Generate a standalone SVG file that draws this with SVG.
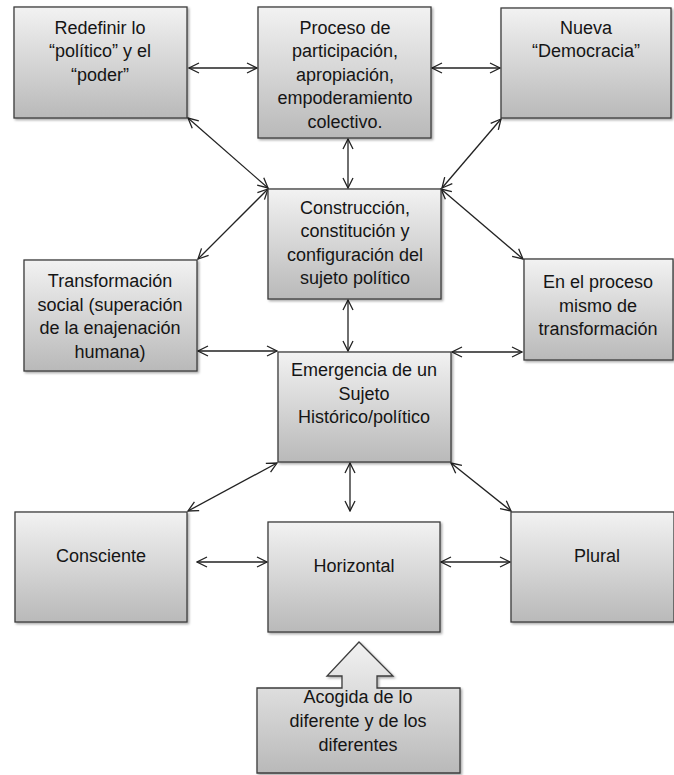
<svg xmlns="http://www.w3.org/2000/svg" width="674" height="775" viewBox="0 0 674 775">
  <defs>
    <linearGradient id="boxFill" x1="0" y1="0" x2="0" y2="1">
      <stop offset="0" stop-color="#f2f2f2"/>
      <stop offset="1" stop-color="#b9b9b9"/>
    </linearGradient>
    <filter id="shadow" x="-10%" y="-10%" width="125%" height="125%">
      <feDropShadow dx="1.5" dy="1.5" stdDeviation="1.2" flood-color="#000" flood-opacity="0.35"/>
    </filter>
    <marker id="head" viewBox="0 0 12 12" refX="11" refY="6" markerWidth="12" markerHeight="12" markerUnits="userSpaceOnUse" orient="auto-start-reverse">
      <path d="M1,1 L11,6 L1,11" fill="none" stroke="#222" stroke-width="1.3"/>
    </marker>
  </defs>
  <style>
    .box { fill: url(#boxFill); stroke: #3c3c3c; stroke-width: 1.3; filter: url(#shadow); }
    .lbl { font-family: "Liberation Sans", "DejaVu Sans", sans-serif; font-size: 18px; fill: #151515; text-anchor: middle; }
    .link { stroke: #222; stroke-width: 1.3; fill: none; marker-start: url(#head); marker-end: url(#head); }
  </style>
  <rect width="674" height="775" fill="#ffffff"/>

  <g id="connectors">
    <line class="link" x1="189" y1="68" x2="257" y2="68"/>
    <line class="link" x1="432" y1="68" x2="500" y2="68"/>
    <line class="link" x1="188" y1="118" x2="268" y2="188"/>
    <line class="link" x1="348" y1="139" x2="348" y2="188"/>
    <line class="link" x1="501" y1="119" x2="442" y2="188"/>
    <line class="link" x1="268" y1="189" x2="198" y2="259"/>
    <line class="link" x1="441" y1="189" x2="523" y2="259"/>
    <line class="link" x1="348" y1="300" x2="348" y2="351"/>
    <line class="link" x1="198" y1="351" x2="277" y2="351"/>
    <line class="link" x1="452" y1="352" x2="522" y2="352"/>
    <line class="link" x1="277" y1="463" x2="188" y2="511"/>
    <line class="link" x1="350" y1="463" x2="350" y2="511"/>
    <line class="link" x1="451" y1="463" x2="511" y2="511"/>
    <line class="link" x1="197" y1="562" x2="267" y2="562"/>
    <line class="link" x1="441" y1="562" x2="510" y2="562"/>
  </g>

  <g id="redefinir">
    <rect class="box" x="14" y="7" width="173" height="111"/>
    <text class="lbl" x="100" y="34">Redefinir lo</text>
    <text class="lbl" x="100" y="57">“político” y el</text>
    <text class="lbl" x="100" y="81">“poder”</text>
  </g>

  <g id="proceso">
    <rect class="box" x="258" y="7" width="173" height="131"/>
    <text class="lbl" x="345" y="34">Proceso de</text>
    <text class="lbl" x="345" y="57">participación,</text>
    <text class="lbl" x="345" y="81">apropiación,</text>
    <text class="lbl" x="345" y="104">empoderamiento</text>
    <text class="lbl" x="345" y="128">colectivo.</text>
  </g>

  <g id="nueva-democracia">
    <rect class="box" x="501" y="8" width="170" height="110"/>
    <text class="lbl" x="586" y="34">Nueva</text>
    <text class="lbl" x="586" y="57">“Democracia”</text>
  </g>

  <g id="construccion">
    <rect class="box" x="268" y="189" width="173" height="110"/>
    <text class="lbl" x="355" y="214">Construcción,</text>
    <text class="lbl" x="355" y="237">constitución y</text>
    <text class="lbl" x="355" y="261">configuración del</text>
    <text class="lbl" x="355" y="284">sujeto político</text>
  </g>

  <g id="transformacion-social">
    <rect class="box" x="24" y="260" width="173" height="111"/>
    <text class="lbl" x="110" y="287">Transformación</text>
    <text class="lbl" x="110" y="311">social (superación</text>
    <text class="lbl" x="110" y="334">de la enajenación</text>
    <text class="lbl" x="110" y="358">humana)</text>
  </g>

  <g id="proceso-transformacion">
    <rect class="box" x="524" y="259" width="149" height="101"/>
    <text class="lbl" x="598" y="288">En el proceso</text>
    <text class="lbl" x="598" y="312">mismo de</text>
    <text class="lbl" x="598" y="335">transformación</text>
  </g>

  <g id="emergencia">
    <rect class="box" x="278" y="352" width="173" height="110"/>
    <text class="lbl" x="364" y="376">Emergencia de un</text>
    <text class="lbl" x="364" y="400">Sujeto</text>
    <text class="lbl" x="364" y="423">Histórico/político</text>
  </g>

  <g id="consciente">
    <rect class="box" x="15" y="512" width="172" height="110"/>
    <text class="lbl" x="101" y="562">Consciente</text>
  </g>

  <g id="horizontal">
    <rect class="box" x="268" y="522" width="172" height="110"/>
    <text class="lbl" x="354" y="572">Horizontal</text>
  </g>

  <g id="plural">
    <rect class="box" x="511" y="512" width="163" height="110"/>
    <text class="lbl" x="597" y="562">Plural</text>
  </g>

  <g id="acogida">
    <path class="box" d="M257,688 L342,688 L342,676 L327,676 L359,642 L393,676 L377,676 L377,688 L460,688 L460,773 L257,773 Z"/>
    <text class="lbl" x="358" y="703">Acogida de lo</text>
    <text class="lbl" x="358" y="727">diferente y de los</text>
    <text class="lbl" x="358" y="751">diferentes</text>
  </g>
</svg>
